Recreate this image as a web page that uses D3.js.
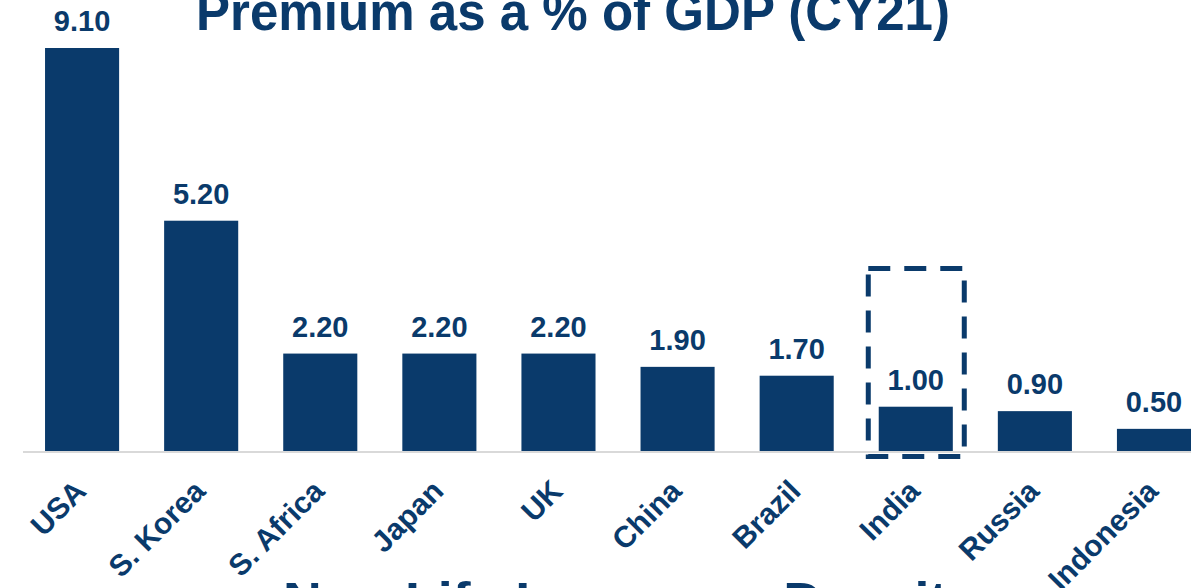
<!DOCTYPE html>
<html>
<head>
<meta charset="utf-8">
<script src="https://cdn.jsdelivr.net/npm/d3@7"></script>
<style>
  html, body { margin: 0; padding: 0; background: #fff; overflow: hidden; }
  svg { display: block; font-family: "Liberation Sans", Arial, sans-serif; }
</style>
</head>
<body>
<svg id="chart" width="1191" height="588"></svg>
<script>
const countries = ["USA", "S. Korea", "S. Africa", "Japan", "UK", "China", "Brazil", "India", "Russia", "Indonesia"];
const penetration = [9.10, 5.20, 2.20, 2.20, 2.20, 1.90, 1.70, 1.00, 0.90, 0.50];
const highlighted = ["India"];
const titleText = "Premium as a % of GDP (CY21)";
const footerText = "Non-Life Insurance Density";

const navy = "#0a3a6b";

const svg = d3.select("#chart");
const width = +svg.attr("width");
const height = +svg.attr("height");

const baseY = 451;
const step = 119.1;
const padIn = 0.378;
const padOut = 0.185;

const x = d3.scaleBand()
  .domain(countries)
  .range([23, 23 + step * (countries.length - padIn + 2 * padOut)])
  .paddingInner(padIn)
  .paddingOuter(padOut);

const y = d3.scaleLinear()
  .domain([0, 9.1])
  .range([baseY, 48]);

const data = countries.map((c, i) => ({ name: c, value: penetration[i] }));

// title (cut at top like the slide)
svg.append("text")
  .attr("x", 196)
  .attr("y", 30)
  .attr("textLength", 754)
  .attr("lengthAdjust", "spacingAndGlyphs")
  .attr("fill", navy)
  .attr("font-weight", "bold")
  .attr("font-size", 54)
  .text(titleText);

// baseline
svg.append("line")
  .attr("x1", 23)
  .attr("x2", width)
  .attr("y1", baseY + 1)
  .attr("y2", baseY + 1)
  .attr("stroke", "#d9d9d9")
  .attr("stroke-width", 2);

// bars
svg.append("g")
  .selectAll("rect")
  .data(data)
  .join("rect")
  .attr("x", d => x(d.name))
  .attr("y", d => y(d.value))
  .attr("width", x.bandwidth())
  .attr("height", d => y(0) - y(d.value))
  .attr("fill", navy);

// value labels
svg.append("g")
  .selectAll("text")
  .data(data)
  .join("text")
  .attr("x", d => x(d.name) + x.bandwidth() / 2)
  .attr("y", d => y(d.value) - 17)
  .attr("text-anchor", "middle")
  .attr("fill", navy)
  .attr("font-weight", "bold")
  .attr("font-size", 29)
  .text(d => d.value.toFixed(2));

// dashed highlight box
highlighted.forEach(h => {
  const cx = x(h) + x.bandwidth() / 2;
  svg.append("rect")
    .attr("x", cx - 47.5)
    .attr("y", 268.5)
    .attr("width", 96)
    .attr("height", 188)
    .attr("fill", "none")
    .attr("stroke", navy)
    .attr("stroke-width", 5)
    .attr("stroke-dasharray", "22,14");
});

// category labels
svg.append("g")
  .selectAll("text")
  .data(countries)
  .join("text")
  .attr("transform", d => `translate(${x(d) + x.bandwidth() / 2 - 9},${baseY + 27}) rotate(-45)`)
  .attr("text-anchor", "end")
  .attr("dy", "0.7em")
  .attr("fill", navy)
  .attr("font-weight", "bold")
  .attr("font-size", 30)
  .text(d => d);

// next heading, cut at bottom
svg.append("text")
  .attr("x", 283)
  .attr("y", 616)
  .attr("textLength", 694)
  .attr("lengthAdjust", "spacingAndGlyphs")
  .attr("fill", navy)
  .attr("font-weight", "bold")
  .attr("font-size", 48)
  .text(footerText);
</script>
</body>
</html>
